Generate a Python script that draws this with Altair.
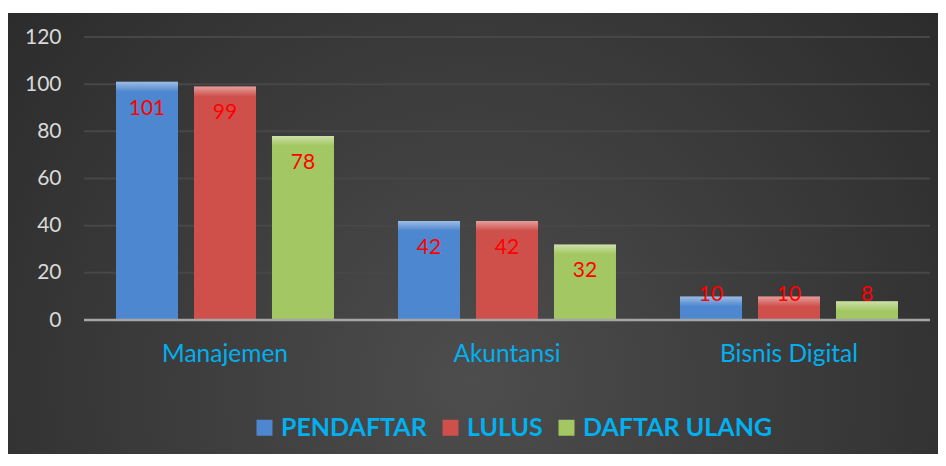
import altair as alt
import pandas as pd

categories = ["Manajemen", "Akuntansi", "Bisnis Digital"]
series = ["PENDAFTAR", "LULUS", "DAFTAR ULANG"]
pendaftar = [101, 42, 10]
lulus = [99, 42, 10]
daftar_ulang = [78, 32, 8]
y_ticks = [0, 20, 40, 60, 80, 100, 120]
grid_ticks = [20, 40, 60, 80, 100, 120]
colors = ["#4d87cf", "#cf504b", "#a3c762"]

rows = []
for s, vals in zip(series, [pendaftar, lulus, daftar_ulang]):
    for c, v in zip(categories, vals):
        rows.append({"kategori": c, "seri": s, "nilai": v})
df = pd.DataFrame(rows)

W, H = 846, 283
FONT = "Lato"

y_scale = alt.Scale(domain=[0, 120], nice=False)
y_axis = alt.Axis(title=None, values=y_ticks, labelFontSize=21, labelColor="#d9d9d9",
                  labelFont=FONT, ticks=False, domain=False, grid=False,
                  labelPadding=23, zindex=1)
x_enc = alt.X("kategori:N", sort=categories,
              scale=alt.Scale(paddingInner=0.227, paddingOuter=0.1135),
              axis=alt.Axis(title=None, labelAngle=0, labelFontSize=24.5, labelColor="#00b0f0",
                            labelFont=FONT, ticks=False, domain=False, grid=False,
                            labelPadding=22, zindex=1))
xoff = alt.XOffset("seri:N", sort=series, scale=alt.Scale(paddingInner=0.205, paddingOuter=0))

bg = alt.Chart(alt.Data(values=[{"a": 1}])).mark_rect(
    fill=alt.RadialGradient(
        gradient="radial", x1=0.5, y1=0.66, x2=0.5, y2=0.66, r1=0, r2=0.75,
        stops=[alt.GradientStop(offset=0, color="#4d4d4d"),
               alt.GradientStop(offset=1, color="#262626")]),
).encode(x=alt.value(-76), x2=alt.value(W + 8), y=alt.value(-24), y2=alt.value(H + 134))

grid = alt.Chart(pd.DataFrame({"nilai": grid_ticks})).mark_rule(
    stroke="#474747", strokeWidth=2
).encode(y=alt.Y("nilai:Q", scale=y_scale, axis=y_axis))

bars = alt.Chart(df).mark_bar().encode(
    x=x_enc,
    xOffset=xoff,
    y=alt.Y("nilai:Q", scale=y_scale, axis=y_axis),
    color=alt.Color("seri:N", sort=series,
                    scale=alt.Scale(domain=series, range=colors),
                    legend=alt.Legend(orient="none", legendX=168, legendY=378,
                                      direction="horizontal", title=None,
                                      symbolType="square", symbolSize=256,
                                      symbolStrokeWidth=0, labelFont=FONT,
                                      labelFontSize=25, labelFontWeight="bold",
                                      labelColor="#00b0f0", columnPadding=11,
                                      labelOffset=4, labelLimit=400)),
)

bevel = alt.Chart(df).transform_calculate(
    top2="datum.nilai - 4.2"
).mark_bar(
    fill=alt.LinearGradient(
        gradient="linear", x1=0, y1=0, x2=0, y2=1,
        stops=[alt.GradientStop(offset=0, color="rgba(255,255,255,0.45)"),
               alt.GradientStop(offset=1, color="rgba(255,255,255,0)")]),
).encode(
    x=x_enc,
    xOffset=xoff,
    y=alt.Y("nilai:Q", scale=y_scale, axis=y_axis),
    y2="top2:Q",
)

zero = alt.Chart(pd.DataFrame({"nilai": [0]})).mark_rule(
    stroke="#a6a6a6", strokeWidth=2.5
).encode(y=alt.Y("nilai:Q", scale=y_scale, axis=y_axis))

labels = alt.Chart(df).transform_calculate(
    ly="max(datum.nilai - 11.4, 10.6)"
).mark_text(font=FONT, fontSize=21, color="#ff0000", baseline="middle").encode(
    x=x_enc,
    xOffset=xoff,
    y=alt.Y("ly:Q", scale=y_scale, axis=y_axis),
    text=alt.Text("nilai:Q"),
)

chart = alt.layer(bg, grid, bars, bevel, zero, labels).properties(
    width=W, height=H,
    padding={"left": 76, "top": 29, "right": 8, "bottom": 134},
    autosize=alt.AutoSizeParams(type="none"),
    background="white",
).configure_view(stroke=None)

chart.save("out.html", embed_options={"renderer": "svg", "actions": False})
